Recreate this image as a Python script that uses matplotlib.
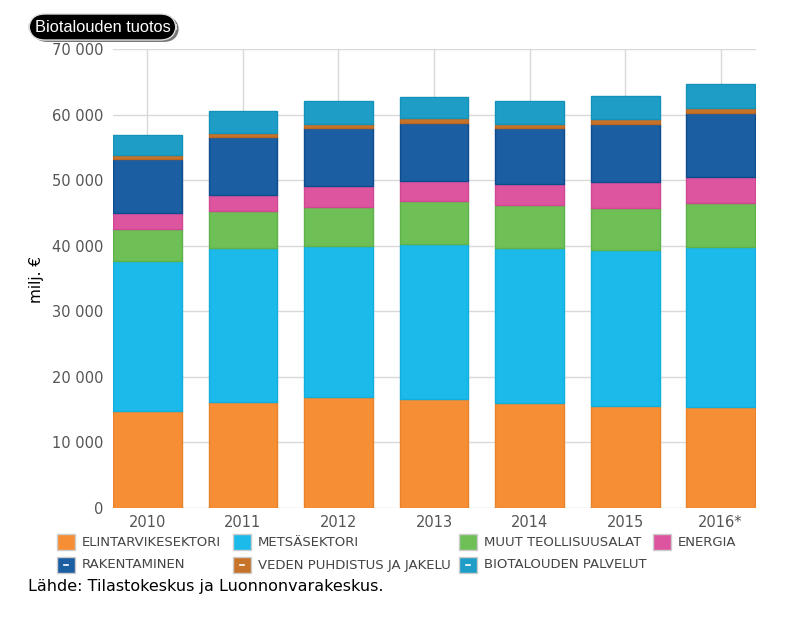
import matplotlib
matplotlib.use("Agg")
import matplotlib.pyplot as plt
import numpy as np
from matplotlib.patches import Rectangle, FancyBboxPatch
from matplotlib.ticker import FuncFormatter

# data, milj. euroa (luettu kuvasta)
years = ["2010", "2011", "2012", "2013", "2014", "2015", "2016*"]
elintarvike = [14750, 16210, 16880, 16620, 16060, 15560, 15360]
metsa = [22920, 23490, 23120, 23640, 23640, 23790, 24400]
muut_teollisuus = [4930, 5550, 5910, 6560, 6560, 6400, 6750]
energia = [2390, 2440, 3150, 3050, 3150, 3970, 4020]
rakentaminen = [8240, 8940, 8940, 8800, 8540, 8890, 9660]
veden_puhdistus = [610, 610, 610, 760, 660, 760, 860]
palvelut = [3050, 3260, 3460, 3300, 3460, 3460, 3570]

series = [
    ("ELINTARVIKESEKTORI", elintarvike, "#F68E35", "#E8832C"),
    ("METSÄSEKTORI", metsa, "#1BBAEA", "#14AEDD"),
    ("MUUT TEOLLISUUSALAT", muut_teollisuus, "#6DBF56", "#5FB24A"),
    ("ENERGIA", energia, "#DD559F", "#D04892"),
    ("RAKENTAMINEN", rakentaminen, "#1B5EA2", "#0F4C8E"),
    ("VEDEN PUHDISTUS JA JAKELU", veden_puhdistus, "#C8732A", "#B96722"),
    ("BIOTALOUDEN PALVELUT", palvelut, "#1E9EC6", "#1592BA"),
]

W, H = 797, 625
fig = plt.figure(figsize=(W / 100, H / 100), dpi=100)
ax = fig.add_axes([113 / W, 1 - 508 / H, (756 - 113) / W, (508 - 49) / H])

x = np.arange(len(years))
bottom = np.zeros(len(years))
for name, vals, col, edge in series:
    ax.bar(x, vals, bottom=bottom, width=0.72, color=col, edgecolor=edge,
           linewidth=1, zorder=3)
    bottom += np.array(vals)

ax.set_xlim(-0.36, 6.37)
ax.set_ylim(0, 70000)
ax.set_yticks(np.arange(0, 70001, 10000))
ax.yaxis.set_major_formatter(FuncFormatter(lambda v, p: f"{int(v):,}".replace(",", " ")))
ax.set_xticks(x)
ax.set_xticklabels(years)
ax.grid(True, color="#D9D9D9", linewidth=1, zorder=0)
for s in ax.spines.values():
    s.set_visible(False)
ax.tick_params(length=0, labelsize=10.5, labelcolor="#555555")
ax.tick_params(axis="y", pad=7)
ax.tick_params(axis="x", pad=5)

fig.text(36 / W, 1 - 280 / H, "milj. €", rotation=90, ha="center", va="center",
         fontsize=11, color="black")

# otsikko
shadow = FancyBboxPatch((32 / W, 1 - 42 / H), 147 / W, 26 / H,
                        boxstyle="round,pad=0,rounding_size=0.02",
                        transform=fig.transFigure, facecolor="#777777",
                        edgecolor="none", mutation_aspect=W / H)
badge = FancyBboxPatch((29 / W, 1 - 40 / H), 147 / W, 26 / H,
                       boxstyle="round,pad=0,rounding_size=0.02",
                       transform=fig.transFigure, facecolor="black",
                       edgecolor="#DDDDDD", linewidth=1, mutation_aspect=W / H)
fig.patches.extend([shadow, badge])
fig.text(103 / W, 1 - 27 / H, "Biotalouden tuotos", ha="center", va="center",
         fontsize=11.8, color="white", family="Liberation Sans")

# selite
legend_pos = [(57, 542), (233, 542), (459, 542), (653, 542),
              (57, 565), (233, 565), (459, 565)]
for i, ((name, vals, col, edge), (lx, ly)) in enumerate(zip(series, legend_pos)):
    sq = Rectangle((lx / W, 1 - (ly + 8) / H), 18 / W, 16 / H,
                   transform=fig.transFigure, facecolor=col,
                   edgecolor="#CCCCCC", linewidth=1)
    fig.patches.append(sq)
    if i >= 4:
        fig.lines.append(plt.Line2D([(lx + 7) / W, (lx + 11) / W],
                                    [1 - ly / H, 1 - ly / H],
                                    transform=fig.transFigure,
                                    color="white", linewidth=1.2))
    fig.text((lx + 25) / W, 1 - ly / H, name, ha="left", va="center",
             fontsize=9.5, color="#444444")

fig.text(28 / W, 1 - 587 / H, "Lähde: Tilastokeskus ja Luonnonvarakeskus.",
         ha="left", va="center", fontsize=11.5, color="black")

fig.savefig("out.png", dpi=100)
